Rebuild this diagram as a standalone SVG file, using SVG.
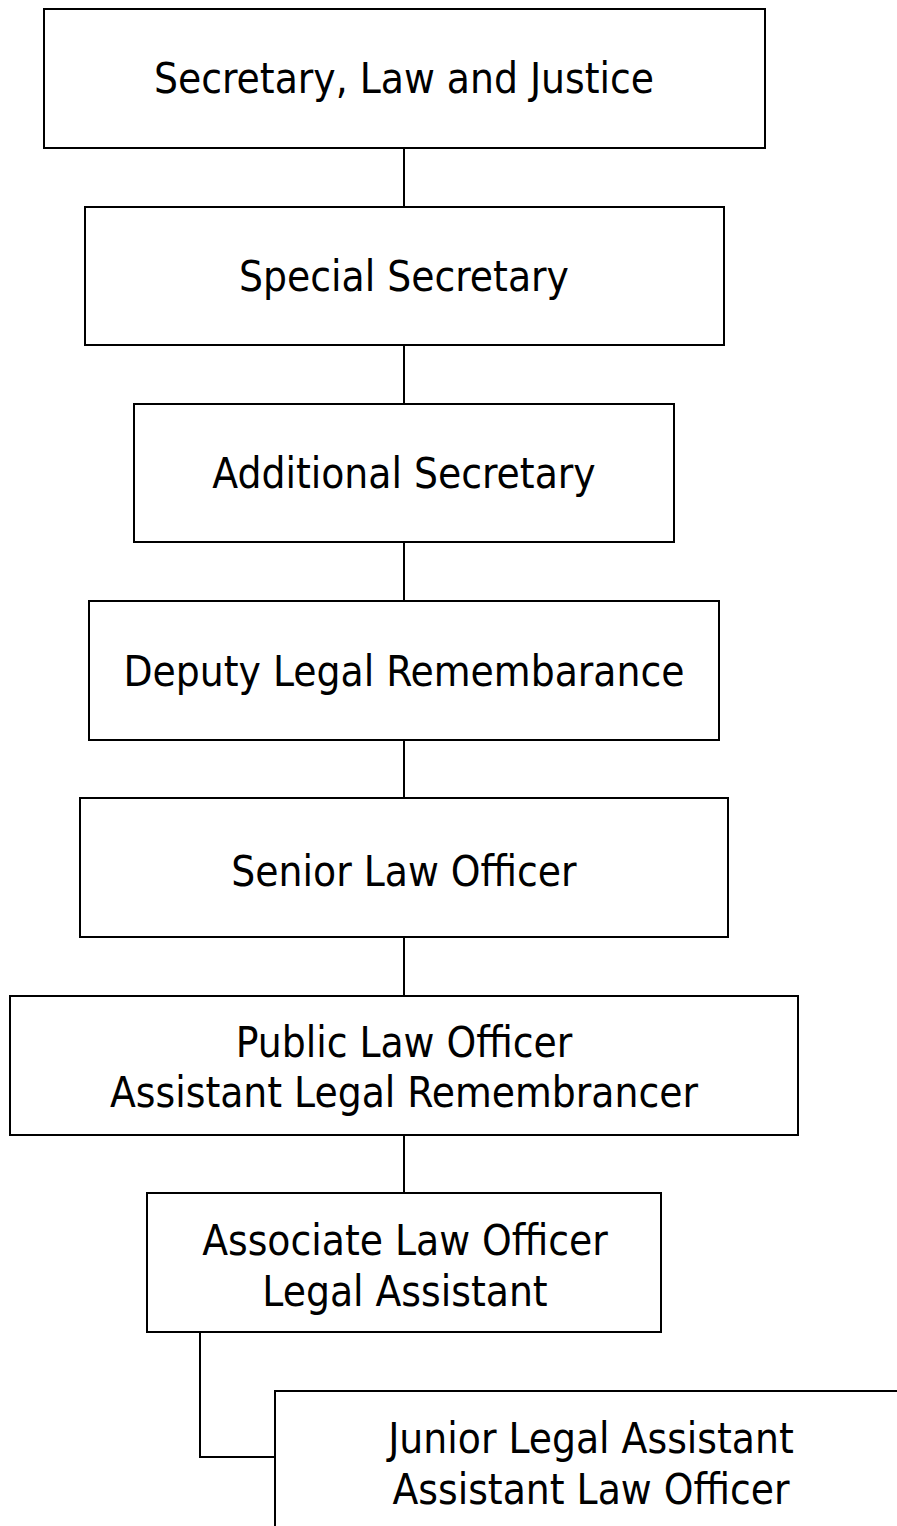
<svg xmlns="http://www.w3.org/2000/svg" width="897" height="1526" viewBox="0 0 897 1526">
<style>
.box{fill:#fff;stroke:#000;stroke-width:2}
.lbl{font-family:"DejaVu Sans Condensed","DejaVu Sans",sans-serif;font-stretch:condensed;font-size:42px;fill:#000;text-anchor:middle}
.con{fill:none;stroke:#000;stroke-width:2}
</style>
<rect width="897" height="1526" fill="#fff"/>
<g id="connectors">
<line class="con" x1="404" y1="148" x2="404" y2="207"/>
<line class="con" x1="404" y1="345" x2="404" y2="404"/>
<line class="con" x1="404" y1="542" x2="404" y2="601"/>
<line class="con" x1="404" y1="740" x2="404" y2="798"/>
<line class="con" x1="404" y1="937" x2="404" y2="996"/>
<line class="con" x1="404" y1="1135" x2="404" y2="1193"/>
<polyline class="con" points="200,1332 200,1457 275,1457"/>
</g>
<g id="n1"><rect class="box" x="44" y="9" width="721" height="139"/><text class="lbl" x="404" y="93">Secretary, Law and Justice</text></g>
<g id="n2"><rect class="box" x="85" y="207" width="639" height="138"/><text class="lbl" x="404" y="291">Special Secretary</text></g>
<g id="n3"><rect class="box" x="134" y="404" width="540" height="138"/><text class="lbl" x="404" y="488">Additional Secretary</text></g>
<g id="n4"><rect class="box" x="89" y="601" width="630" height="139"/><text class="lbl" x="404" y="686">Deputy Legal Remembarance</text></g>
<g id="n5"><rect class="box" x="80" y="798" width="648" height="139"/><text class="lbl" x="404" y="886">Senior Law Officer</text></g>
<g id="n6"><rect class="box" x="10" y="996" width="788" height="139"/><text class="lbl" x="404" y="1057">Public Law Officer</text><text class="lbl" x="404" y="1107">Assistant Legal Remembrancer</text></g>
<g id="n7"><rect class="box" x="147" y="1193" width="514" height="139"/><text class="lbl" x="405" y="1255">Associate Law Officer</text><text class="lbl" x="405" y="1306">Legal Assistant</text></g>
<g id="n8"><rect class="box" x="275" y="1391" width="640" height="160"/><text class="lbl" x="591" y="1453">Junior Legal Assistant</text><text class="lbl" x="591" y="1504">Assistant Law Officer</text></g>
</svg>
